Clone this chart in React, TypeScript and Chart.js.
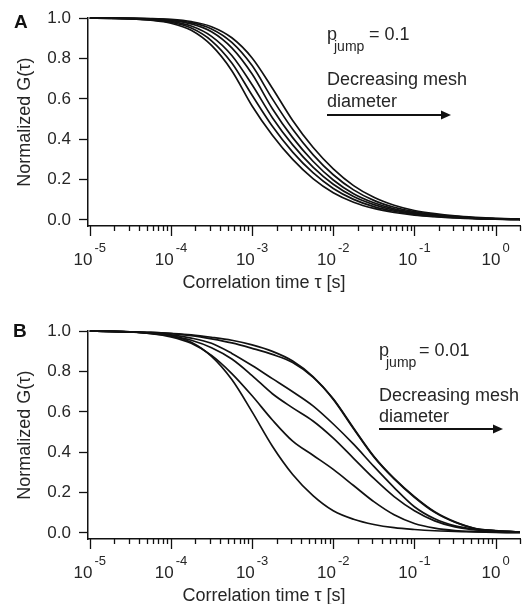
import React, { useEffect, useRef } from "react";
import { Chart, registerables } from "chart.js";

Chart.register(...registerables);

// ---------- data ----------
const TAU = [
  1e-5, 1.778e-5, 3.162e-5, 5.623e-5, 1e-4, 1.778e-4, 3.162e-4, 5.623e-4,
  1e-3, 1.778e-3, 3.162e-3, 5.623e-3, 1e-2, 1.778e-2, 3.162e-2, 5.623e-2,
  0.1, 0.1778, 0.3162, 0.5623, 1, 1.778, 2,
];

// Panel A, p_jump = 0.1 (fastest -> slowest)
const A_CURVE_1 = [1.0, 0.999, 0.997, 0.99, 0.975, 0.94, 0.865, 0.74, 0.565, 0.42, 0.3, 0.205, 0.135, 0.088, 0.057, 0.037, 0.024, 0.016, 0.01, 0.006, 0.004, 0.002, 0.002];
const A_CURVE_2 = [1.0, 0.999, 0.998, 0.992, 0.98, 0.951, 0.888, 0.778, 0.618, 0.464, 0.336, 0.234, 0.156, 0.102, 0.066, 0.043, 0.028, 0.018, 0.012, 0.007, 0.005, 0.003, 0.002];
const A_CURVE_3 = [1.0, 1.0, 0.998, 0.994, 0.984, 0.961, 0.91, 0.815, 0.67, 0.507, 0.372, 0.262, 0.177, 0.116, 0.076, 0.049, 0.032, 0.021, 0.014, 0.008, 0.005, 0.003, 0.002];
const A_CURVE_4 = [1.0, 1.0, 0.999, 0.996, 0.989, 0.972, 0.933, 0.853, 0.723, 0.551, 0.408, 0.291, 0.198, 0.13, 0.085, 0.055, 0.036, 0.023, 0.015, 0.01, 0.006, 0.004, 0.003];
const A_CURVE_5 = [1.0, 1.0, 0.999, 0.997, 0.991, 0.978, 0.947, 0.88, 0.765, 0.6, 0.449, 0.324, 0.224, 0.149, 0.097, 0.063, 0.041, 0.027, 0.018, 0.011, 0.007, 0.004, 0.003];
const A_CURVE_6 = [1.0, 1.0, 0.999, 0.998, 0.994, 0.983, 0.958, 0.903, 0.803, 0.653, 0.493, 0.36, 0.253, 0.17, 0.112, 0.073, 0.047, 0.031, 0.02, 0.013, 0.008, 0.005, 0.003];

// Panel B, p_jump = 0.01 (fastest -> slowest)
const B_CURVE_1 = [1.0, 0.999, 0.997, 0.991, 0.977, 0.945, 0.875, 0.76, 0.6, 0.43, 0.29, 0.185, 0.11, 0.068, 0.042, 0.026, 0.017, 0.011, 0.008, 0.005, 0.003, 0.002, 0.002];
const B_CURVE_2 = [1.0, 0.999, 0.996, 0.988, 0.972, 0.94, 0.88, 0.79, 0.68, 0.56, 0.455, 0.385, 0.315, 0.235, 0.155, 0.09, 0.047, 0.024, 0.012, 0.007, 0.004, 0.003, 0.003];
const B_CURVE_3 = [1.0, 0.999, 0.996, 0.989, 0.977, 0.955, 0.918, 0.862, 0.78, 0.69, 0.62, 0.555, 0.47, 0.37, 0.27, 0.18, 0.11, 0.06, 0.03, 0.015, 0.008, 0.005, 0.004];
const B_CURVE_4 = [1.0, 0.999, 0.996, 0.991, 0.982, 0.966, 0.94, 0.89, 0.83, 0.765, 0.7, 0.63, 0.54, 0.44, 0.33, 0.225, 0.13, 0.07, 0.035, 0.018, 0.009, 0.006, 0.005];
const B_CURVE_5 = [1.0, 0.999, 0.997, 0.994, 0.988, 0.978, 0.962, 0.942, 0.915, 0.885, 0.845, 0.772, 0.662, 0.517, 0.377, 0.268, 0.177, 0.102, 0.053, 0.022, 0.011, 0.006, 0.005];
const B_CURVE_6 = [1.0, 0.999, 0.997, 0.994, 0.989, 0.982, 0.97, 0.955, 0.932, 0.9, 0.852, 0.775, 0.665, 0.52, 0.38, 0.27, 0.18, 0.105, 0.055, 0.022, 0.012, 0.006, 0.005];

const Y_TICKS = [0, 0.2, 0.4, 0.6, 0.8, 1.0];
const DECADE_EXPONENTS = [-5, -4, -3, -2, -1, 0];
const MINOR_MULTIPLIERS = [2, 3, 4, 5, 6, 7, 8, 9];
const X_MIN = 9.5e-6;
const X_MAX = 2;
const Y_MIN = -0.03;
const Y_MAX = 1.0;

const X_TITLE = "Correlation time \u03c4 [s]";
const Y_TITLE = "Normalized G(\u03c4)";

// ---------- styling ----------
const FONT = '"Liberation Sans", Arial, Helvetica, sans-serif';
const TEXT = "#262626";
const INK = "#111111";
const W = 528;

type Spec = {
  letter: string;
  pValue: string;
  curves: number[][];
  height: number;
  letterPos: [number, number];
  pPos: [number, number];
  eqX: number;
  textBase: [number, number];
  arrow: [number, number, number];
};

const SPEC_A: Spec = {
  letter: "A",
  pValue: "= 0.1",
  curves: [A_CURVE_1, A_CURVE_2, A_CURVE_3, A_CURVE_4, A_CURVE_5, A_CURVE_6],
  height: 313,
  letterPos: [14, 28],
  pPos: [327, 40],
  eqX: 369,
  textBase: [85, 107],
  arrow: [327, 451, 115],
};

const SPEC_B: Spec = {
  letter: "B",
  pValue: "= 0.01",
  curves: [B_CURVE_1, B_CURVE_2, B_CURVE_3, B_CURVE_4, B_CURVE_5, B_CURVE_6],
  height: 291,
  letterPos: [13, 24],
  pPos: [379, 43],
  eqX: 419,
  textBase: [88, 109],
  arrow: [379, 503, 116],
};

function xTickList() {
  const list: { value: number; major: boolean }[] = [];
  DECADE_EXPONENTS.forEach((e) => {
    const base = Math.pow(10, e);
    if (base >= X_MIN && base <= X_MAX) list.push({ value: base, major: true });
    MINOR_MULTIPLIERS.forEach((m) => {
      const v = m * base;
      if (v >= X_MIN && v <= X_MAX * 1.0001) list.push({ value: v, major: false });
    });
  });
  return list;
}

function decorPlugin(spec: Spec) {
  return {
    id: "panelDecor" + spec.letter,
    afterDraw(chart: any) {
      const ctx: CanvasRenderingContext2D = chart.ctx;
      const xs = chart.scales.x;
      const area = chart.chartArea;
      const axisY = area.bottom;
      ctx.save();
      // x ticks
      ctx.strokeStyle = INK;
      ctx.lineWidth = 1.3;
      xTickList().forEach((t) => {
        const px = Math.round(xs.getPixelForValue(t.value)) + 0.5;
        ctx.beginPath();
        ctx.moveTo(px, axisY);
        ctx.lineTo(px, axisY + (t.major ? 10 : 5));
        ctx.stroke();
      });
      // x tick labels 10^e
      ctx.fillStyle = TEXT;
      ctx.textBaseline = "alphabetic";
      ctx.textAlign = "left";
      DECADE_EXPONENTS.forEach((e) => {
        const px = xs.getPixelForValue(Math.pow(10, e));
        ctx.font = `17px ${FONT}`;
        const w1 = ctx.measureText("10").width;
        ctx.font = `13px ${FONT}`;
        const sup = e < 0 ? "-" + Math.abs(e) : String(e);
        const w2 = ctx.measureText(sup).width;
        const start = px - (w1 + 2 + w2) / 2;
        ctx.font = `17px ${FONT}`;
        ctx.fillText("10", start, axisY + 39);
        ctx.font = `13px ${FONT}`;
        ctx.fillText(sup, start + w1 + 2, axisY + 26);
      });
      // x title centred on the figure
      ctx.font = `18px ${FONT}`;
      ctx.textAlign = "center";
      ctx.fillText(X_TITLE, chart.width / 2, axisY + 62);
      // panel letter
      ctx.textAlign = "left";
      ctx.font = `bold 19px ${FONT}`;
      ctx.fillStyle = "#111";
      ctx.fillText(spec.letter, spec.letterPos[0], spec.letterPos[1]);
      // annotation
      ctx.fillStyle = TEXT;
      ctx.font = `18px ${FONT}`;
      ctx.fillText("p", spec.pPos[0], spec.pPos[1]);
      ctx.font = `14px ${FONT}`;
      ctx.fillText("jump", spec.pPos[0] + 7, spec.pPos[1] + 11);
      ctx.font = `18px ${FONT}`;
      ctx.fillText(spec.pValue, spec.eqX, spec.pPos[1]);
      ctx.fillText("Decreasing mesh", spec.pPos[0], spec.textBase[0]);
      ctx.fillText("diameter", spec.pPos[0], spec.textBase[1]);
      // arrow
      const [x0, x1, ay] = spec.arrow;
      ctx.strokeStyle = INK;
      ctx.fillStyle = INK;
      ctx.lineWidth = 2;
      ctx.beginPath();
      ctx.moveTo(x0, ay);
      ctx.lineTo(x1 - 6, ay);
      ctx.stroke();
      ctx.beginPath();
      ctx.moveTo(x1, ay);
      ctx.lineTo(x1 - 10, ay - 4.5);
      ctx.lineTo(x1 - 10, ay + 4.5);
      ctx.closePath();
      ctx.fill();
      ctx.restore();
    },
  };
}

function buildConfig(spec: Spec): any {
  const datasets = spec.curves.map((vals, k) => ({
    label: spec.letter + (k + 1),
    data: TAU.map((t, i) => ({ x: t, y: vals[i] })),
    borderColor: INK,
    borderWidth: 1.7,
    pointRadius: 0,
    fill: false,
    cubicInterpolationMode: "monotone",
    clip: false,
  }));
  return {
    type: "line",
    data: { datasets },
    options: {
      responsive: false,
      devicePixelRatio: 1,
      animation: false,
      layout: { padding: { left: 0, right: 8, top: 12, bottom: 0 } },
      plugins: { legend: { display: false }, tooltip: { enabled: false } },
      scales: {
        x: {
          type: "logarithmic",
          min: X_MIN,
          max: X_MAX,
          ticks: { display: false },
          grid: { display: false },
          border: { display: true, color: INK, width: 1.5 },
          afterFit: (s: any) => {
            s.height = spec.height - 226;
          },
        },
        y: {
          type: "linear",
          min: Y_MIN,
          max: Y_MAX,
          afterBuildTicks: (s: any) => {
            s.ticks = Y_TICKS.map((v) => ({ value: v }));
          },
          ticks: {
            color: TEXT,
            padding: 8,
            font: { family: FONT, size: 17 },
            callback: (v: any) => Number(v).toFixed(1),
          },
          grid: {
            display: true,
            drawOnChartArea: false,
            drawTicks: true,
            tickLength: 9,
            tickColor: INK,
            tickWidth: 1.3,
          },
          border: { display: true, color: INK, width: 1.5 },
          title: {
            display: true,
            text: Y_TITLE,
            color: TEXT,
            font: { family: FONT, size: 18 },
            padding: { top: 14, bottom: 0 },
          },
          afterFit: (s: any) => {
            s.width = 88;
          },
        },
      },
    },
    plugins: [decorPlugin(spec)],
  };
}

function Panel({ spec }: { spec: Spec }) {
  const ref = useRef<HTMLCanvasElement>(null);
  useEffect(() => {
    if (!ref.current) return;
    const chart = new Chart(ref.current, buildConfig(spec));
    return () => chart.destroy();
  }, [spec]);
  return (
    <canvas
      ref={ref}
      width={W}
      height={spec.height}
      style={{ display: "block", width: W, height: spec.height }}
    />
  );
}

export default function App() {
  return (
    <div style={{ position: "absolute", left: 0, top: 0, width: W, height: 604, background: "#fff" }}>
      <Panel spec={SPEC_A} />
      <Panel spec={SPEC_B} />
    </div>
  );
}
